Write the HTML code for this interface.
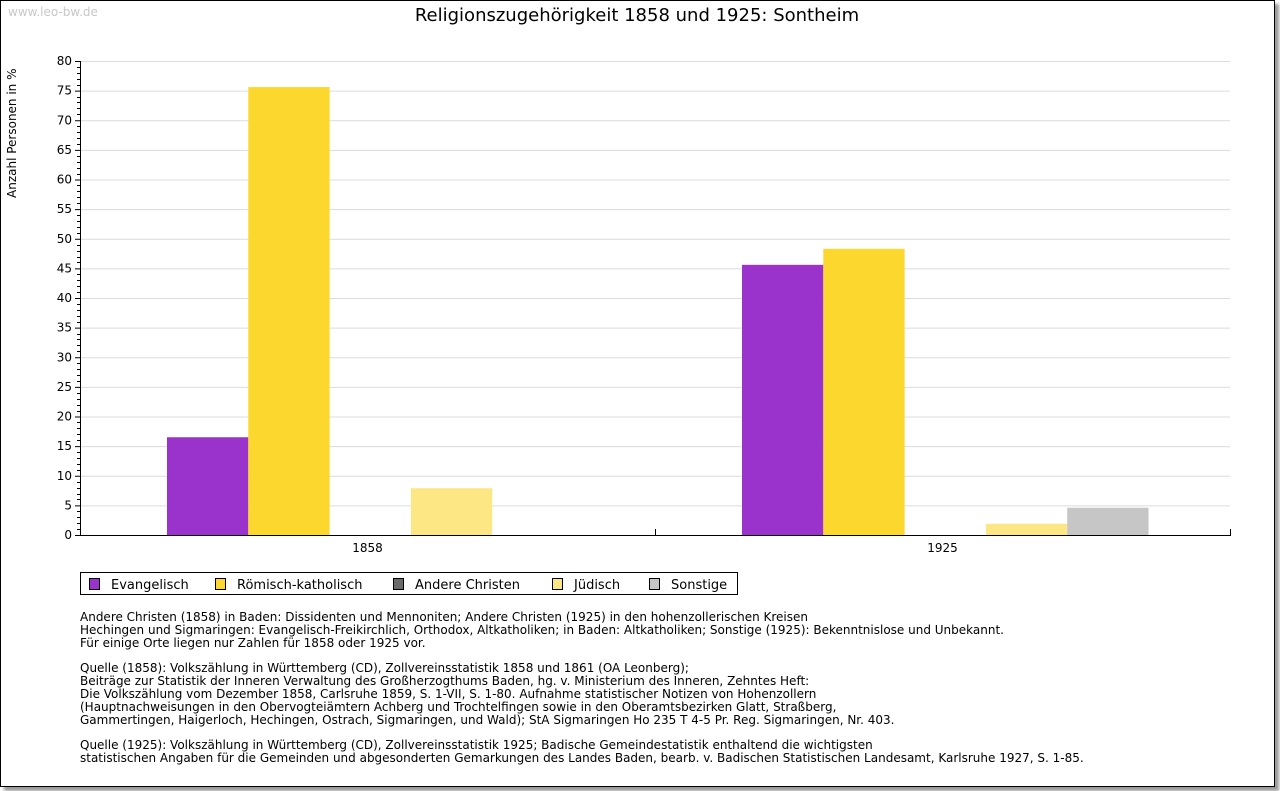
<!DOCTYPE html>
<html><head><meta charset="utf-8"><style>
body{margin:0;background:#fff;font-family:"Liberation Sans","DejaVu Sans",sans-serif}
#frame{position:absolute;left:0;top:0;width:1273px;height:785px;border:1px solid #000;box-shadow:4px 4px 3px #999;background:#fff}
</style></head><body>
<div id="frame"></div>
<svg id="c" width="1280" height="791" style="position:absolute;left:0;top:0" font-family="DejaVu Sans, Liberation Sans, sans-serif">
<text x="8" y="16" font-size="12" fill="#c8c8c8">www.leo-bw.de</text>
<text x="637" y="21" font-size="18" text-anchor="middle" fill="#000">Religionszugehörigkeit 1858 und 1925: Sontheim</text>
<text transform="translate(16,198) rotate(-90)" font-size="12" text-anchor="start">Anzahl Personen in %</text>
<g id="grid"></g><g id="bars"></g><g id="axes"></g>
<g>
<rect x="80.5" y="572.5" width="657" height="22" fill="#fff" stroke="#000"/>
<g id="leg"></g></g>
<g font-size="12" fill="#000">
<text x="80" y="621">Andere Christen (1858) in Baden: Dissidenten und Mennoniten; Andere Christen (1925) in den hohenzollerischen Kreisen</text>
<text x="80" y="634">Hechingen und Sigmaringen: Evangelisch-Freikirchlich, Orthodox, Altkatholiken; in Baden: Altkatholiken; Sonstige (1925): Bekenntnislose und Unbekannt.</text>
<text x="80" y="647">Für einige Orte liegen nur Zahlen für 1858 oder 1925 vor.</text>
<text x="80" y="672">Quelle (1858): Volkszählung in Württemberg (CD), Zollvereinsstatistik 1858 und 1861 (OA Leonberg);</text>
<text x="80" y="685">Beiträge zur Statistik der Inneren Verwaltung des Großherzogthums Baden, hg. v. Ministerium des Inneren, Zehntes Heft:</text>
<text x="80" y="698">Die Volkszählung vom Dezember 1858, Carlsruhe 1859, S. 1-VII, S. 1-80. Aufnahme statistischer Notizen von Hohenzollern</text>
<text x="80" y="711">(Hauptnachweisungen in den Obervogteiämtern Achberg und Trochtelfingen sowie in den Oberamtsbezirken Glatt, Straßberg,</text>
<text x="80" y="724">Gammertingen, Haigerloch, Hechingen, Ostrach, Sigmaringen, und Wald); StA Sigmaringen Ho 235 T 4-5 Pr. Reg. Sigmaringen, Nr. 403.</text>
<text x="80" y="749">Quelle (1925): Volkszählung in Württemberg (CD), Zollvereinsstatistik 1925; Badische Gemeindestatistik enthaltend die wichtigsten</text>
<text x="80" y="762">statistischen Angaben für die Gemeinden und abgesonderten Gemarkungen des Landes Baden, bearb. v. Badischen Statistischen Landesamt, Karlsruhe 1927, S. 1-85.</text>
</g>
</svg>
<script>
const categories=["1858","1925"];
const seriesNames=["Evangelisch","Römisch-katholisch","Andere Christen","Jüdisch","Sonstige"];
const seriesColors=["#9933cc","#fcd72e","#6b6b6b","#fce784","#c6c6c6"];
const evangelisch=[16.5,45.6];
const katholisch=[75.6,48.3];
const andere=[0,0];
const juedisch=[7.9,1.9];
const sonstige=[0,4.6];
const yTicks=[0,5,10,15,20,25,30,35,40,45,50,55,60,65,70,75,80];
const series=[evangelisch,katholisch,andere,juedisch,sonstige];
const NS="http://www.w3.org/2000/svg";
const X0=80,X1=1230,Y0=535,Y1=61,YMAX=80;
const y=v=>Y0-(v/YMAX)*(Y0-Y1);
const cw=(X1-X0)/categories.length, bw=81.3, off=87;
function mk(t,a,p){const e=document.createElementNS(NS,t);for(const k in a)e.setAttribute(k,a[k]);p.appendChild(e);return e;}
const grid=document.getElementById('grid'),bars=document.getElementById('bars'),axes=document.getElementById('axes'),leg=document.getElementById('leg');
yTicks.forEach(v=>{
 if(v>0){const l=mk('line',{x1:X0,x2:X1,y1:y(v)+.5,y2:y(v)+.5,stroke:'#dcdcdc'},grid);
 
 }
 const t=mk('text',{x:X0-8,y:y(v)+4,'font-size':12,'text-anchor':'end'},axes);t.textContent=v;
 
 
 mk('line',{x1:X0-5,x2:X0,y1:y(v)+.5,y2:y(v)+.5,stroke:'#000'},axes);
});
for(let v=0;v<=YMAX;v++){if(v%5)mk('line',{x1:X0-3,x2:X0,y1:Math.round(y(v))+.5,y2:Math.round(y(v))+.5,stroke:'#000'},axes);}
mk('line',{x1:X0+.5,x2:X0+.5,y1:Y1,y2:Y0,stroke:'#000'},axes);
mk('line',{x1:X0,x2:X1+1,y1:Y0+.5,y2:Y0+.5,stroke:'#000'},axes);
categories.forEach((c,i)=>{
 const gx=X0+i*cw;
 mk('line',{x1:gx+cw+.5,x2:gx+cw+.5,y1:Y0-6,y2:Y0,stroke:'#000'},axes);
 const t=mk('text',{x:gx+cw/2,y:Y0+17,'font-size':12,'text-anchor':'middle'},axes);t.textContent=c;
 
 
 series.forEach((s,j)=>{
  if(s[i]<=0)return;
  const r=mk('rect',{x:gx+off+j*bw,y:y(s[i]),width:bw,height:Y0-y(s[i]),fill:seriesColors[j]},bars);
  
  
 });
});
const lx=[89,215,393,552,649];
seriesNames.forEach((n,j)=>{
 const g=mk('g',{},leg);
 
 
 mk('rect',{x:lx[j]+.5,y:578.5,width:10,height:11,fill:seriesColors[j],stroke:'#000'},g);
 const t=mk('text',{x:lx[j]+22,y:589,'font-size':13},g);t.textContent=n;
});
</script>
</body></html>
